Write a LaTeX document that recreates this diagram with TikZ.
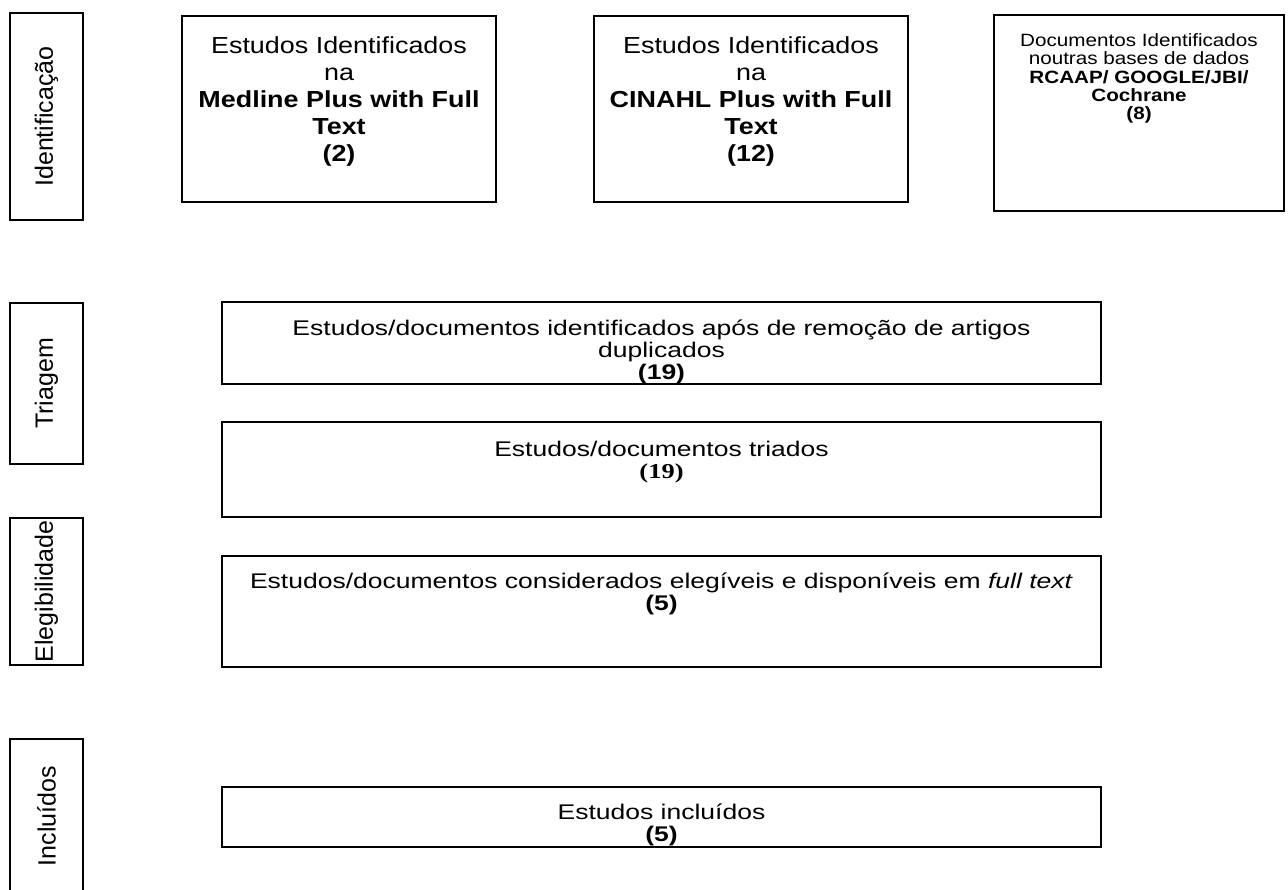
\documentclass[tikz,border=0pt]{standalone}
\usepackage{fontspec}
\setmainfont[FakeStretch=1.16]{Liberation Sans}
\newfontfamily\plainsans{Liberation Sans}
\newfontfamily\flowfont[FakeStretch=1.25]{Liberation Sans}
\newfontfamily\timesfont[FakeStretch=1.25]{Liberation Serif}
\usetikzlibrary{fit}
\newcommand{\tightlines}{\lineskiplimit=-20pt\relax}

\tikzset{
  frame/.style={draw, line width=0.8pt, inner sep=0pt},
  phase/.style={rotate=90, inner sep=0pt, font=\plainsans\fontsize{12.5}{14}\selectfont},
  txt/.style={anchor=north, align=center, inner sep=0pt, font=\fontsize{11.6}{13.5}\selectfont},
  smalltxt/.style={anchor=north, align=center, inner sep=0pt, font=\fontsize{8.9}{9.2}\selectfont\tightlines},
  flowtxt/.style={anchor=north, align=center, inner sep=0pt, font=\flowfont\fontsize{10.6}{11}\selectfont\tightlines},
}

\begin{document}
\begin{tikzpicture}[x=0.5pt,y=-0.5pt]
\useasboundingbox (0,0) rectangle (1288,889);
\clip (0,0) rectangle (1288,889);

% fases
\node[frame, fit={(10,13) (83,220)}] (ident) {};
\node[phase] (identl) at (ident.center) {Identificação};
\node[frame, fit={(10,303) (83,464)}] (triag) {};
\node[phase] (triagl) at (triag.center) {Triagem};
\node[frame, fit={(10,518) (83,665)}] (eleg) {};
\node[phase] (elegl) at (eleg.center) {Elegibilidade};
\node[frame, fit={(10,739) (83,893)}] (incl) {};
\node[phase] (incll) at (incl.center) {Incluídos};

% identificacao
\node[frame, fit={(182,16) (496,202)}] (medline) {};
\node[txt] (medlinet) at (339,36) {Estudos Identificados\\na\\\textbf{Medline Plus with Full}\\\textbf{Text}\\\textbf{(2)}};
\node[frame, fit={(594,16) (908,202)}] (cinahl) {};
\node[txt] (cinahlt) at (751,36) {Estudos Identificados\\na\\\textbf{CINAHL Plus with Full}\\\textbf{Text}\\\textbf{(12)}};
\node[frame, fit={(994,15) (1284,211)}] (outras) {};
\node[smalltxt] (outrast) at (1139,33) {Documentos Identificados\\noutras bases de dados\\\textbf{RCAAP/ GOOGLE/JBI/}\\\textbf{Cochrane}\\\textbf{(8)}};

% triagem
\node[frame, fit={(222,302) (1101,384)}] (dupl) {};
\node[flowtxt] (duplt) at (661.5,319) {Estudos/documentos identificados após de remoção de artigos\\duplicados\\\textbf{(19)}};
\node[frame, fit={(222,422) (1101,517)}] (triados) {};
\node[flowtxt] (triadost) at (661.5,441) {Estudos/documentos triados\\{\timesfont\bfseries (19)}};

% elegibilidade
\node[frame, fit={(222,556) (1101,667)}] (elegiveis) {};
\node[flowtxt] (elegiveist) at (661.5,572) {Estudos/documentos considerados elegíveis e disponíveis em \textit{full text}\\\textbf{(5)}};

% incluidos
\node[frame, fit={(222,787) (1101,847)}] (incluidos) {};
\node[flowtxt] (incluidost) at (661.5,803) {Estudos incluídos\\\textbf{(5)}};
\end{tikzpicture}
\end{document}
